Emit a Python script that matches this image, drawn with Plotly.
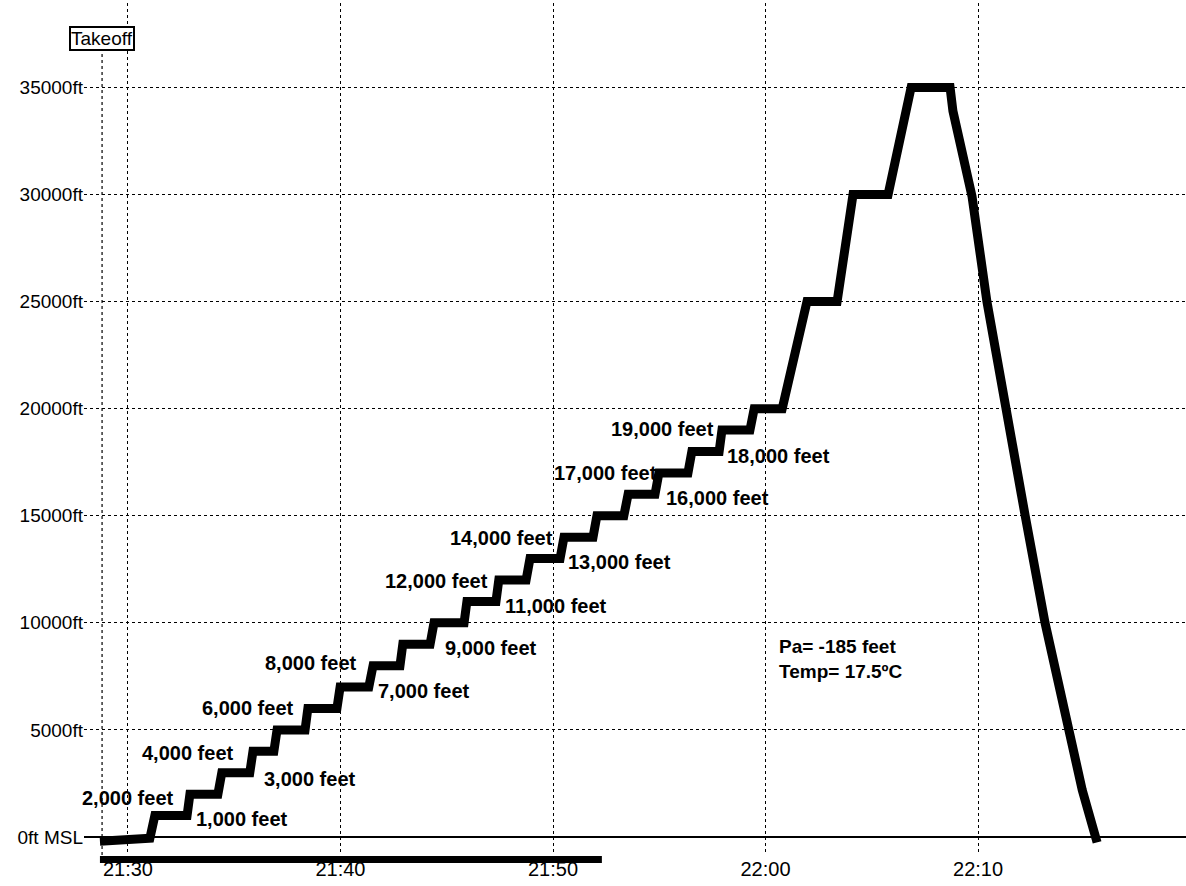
import pandas as pd
import plotly.graph_objects as go

DAY = "2000-01-01 "

# Flight profile vertices (local time, pressure altitude in feet)
TIME = ["21:28:41", "21:29:30", "21:31:02", "21:31:16", "21:32:47", "21:32:55", "21:34:14",
        "21:34:25", "21:35:44", "21:35:53", "21:36:52", "21:37:01", "21:38:20", "21:38:28",
        "21:39:50", "21:39:59", "21:41:20", "21:41:32", "21:42:48", "21:42:56", "21:44:13",
        "21:44:24", "21:45:49", "21:45:57", "21:47:19", "21:47:27", "21:48:44", "21:48:55",
        "21:50:20", "21:50:31", "21:51:53", "21:52:04", "21:53:20", "21:53:32", "21:54:48",
        "21:54:59", "21:56:21", "21:56:32", "21:57:49", "21:57:57", "21:59:16", "21:59:28",
        "22:00:47", "22:01:57", "22:03:22", "22:04:07", "22:05:46", "22:06:51", "22:08:41",
        "22:08:49", "22:09:43", "22:10:25", "22:11:16", "22:12:13", "22:13:09", "22:14:14",
        "22:14:54", "22:15:36"]
ALT_FT = [-200, -150, -60, 1000, 1000, 2000, 2000,
          3000, 3000, 4000, 4000, 5000, 5000, 6000,
          6000, 7000, 7000, 8000, 8000, 9000, 9000,
          10000, 10000, 11000, 11000, 12000, 12000, 13000,
          13000, 14000, 14000, 15000, 15000, 16000, 16000,
          17000, 17000, 18000, 18000, 19000, 19000, 20000,
          20000, 25000, 25000, 30000, 30000, 35000, 35000,
          33900, 29900, 25000, 20000, 15000, 10000, 5000,
          2200, -250]

# Axis ticks
X_TICKS = ["21:30", "21:40", "21:50", "22:00", "22:10"]
Y_TICKS = [0, 5000, 10000, 15000, 20000, 25000, 30000, 35000]
Y_TICK_TEXT = ["0ft MSL", "5000ft", "10000ft", "15000ft", "20000ft", "25000ft", "30000ft", "35000ft"]

# Step labels and their anchor (time, altitude)
LABEL_TEXT = ["2,000 feet", "1,000 feet", "4,000 feet", "3,000 feet", "6,000 feet", "8,000 feet",
              "7,000 feet", "9,000 feet", "12,000 feet", "11,000 feet", "14,000 feet",
              "13,000 feet", "17,000 feet", "16,000 feet", "19,000 feet", "18,000 feet"]
LABEL_TIME = ["21:30:00", "21:35:22", "21:32:49", "21:38:34", "21:35:39", "21:38:37",
              "21:43:56", "21:47:05", "21:44:30", "21:50:08", "21:47:36",
              "21:53:09", "21:52:27", "21:57:43", "21:55:08", "22:00:38"]
LABEL_ALT = [1820, 840, 3920, 2710, 6020, 8120,
             6810, 8820, 11950, 10780, 13950,
             12830, 16990, 15820, 19040, 17780]

NOTE_TEXT = "Pa= -185 feet<br>Temp= 17.5ºC"
NOTE_TIME = "22:00:32"
NOTE_ALT = 8330

TAKEOFF_TIME = "21:28:47"
BAR_START = "21:28:41"
BAR_END = "21:52:18"

X_RANGE = ["21:27:56", "22:19:47"]
Y_RANGE = [-840, 38940]

FONT = "Arial, Liberation Sans, sans-serif"

def ts(t):
    return pd.Timestamp(DAY + t)

fig = go.Figure()
fig.add_trace(go.Scatter(
    x=[ts(t) for t in TIME], y=ALT_FT, mode="lines",
    line=dict(color="black", width=9), hoverinfo="skip"))

for txt, t, a in zip(LABEL_TEXT, LABEL_TIME, LABEL_ALT):
    fig.add_annotation(x=ts(t), y=a, text=txt, showarrow=False,
                       font=dict(family=FONT, size=20, color="black", weight="bold"),
                       xanchor="center", yanchor="middle")

fig.add_annotation(x=ts(NOTE_TIME), y=NOTE_ALT, text=NOTE_TEXT, showarrow=False, align="left",
                   font=dict(family=FONT, size=19, color="black", weight="bold"),
                   xanchor="left", yanchor="middle")

# Takeoff marker
fig.add_shape(type="line", xref="x", yref="paper", x0=ts(TAKEOFF_TIME), x1=ts(TAKEOFF_TIME),
              y0=0, y1=0.947, line=dict(color="black", width=1.2, dash="dot"))
fig.add_annotation(x=ts(TAKEOFF_TIME), xref="x", yref="paper", y=0.958, text="Takeoff",
                   showarrow=False, font=dict(family=FONT, size=19, color="black"),
                   bordercolor="black", borderwidth=2, borderpad=0, bgcolor="white",
                   xanchor="center", yanchor="middle")

# Range bar under the axis
fig.add_shape(type="rect", xref="x", yref="paper", x0=ts(BAR_START), x1=ts(BAR_END),
              y0=-0.0094, y1=-0.0012, fillcolor="black", line=dict(width=0))

fig.update_layout(
    width=1186, height=886,
    margin=dict(l=84, r=0, t=3, b=31, autoexpand=False),
    paper_bgcolor="white", plot_bgcolor="white",
    showlegend=False,
    font=dict(family=FONT, color="black"),
    xaxis=dict(type="date", range=[ts(X_RANGE[0]), ts(X_RANGE[1])],
               tickvals=[ts(t + ":00") for t in X_TICKS], ticktext=X_TICKS,
               showgrid=True, gridcolor="black", griddash="dot", gridwidth=1,
               showline=False, zeroline=False, ticks="",
               tickfont=dict(family=FONT, size=20, color="black")),
    yaxis=dict(range=Y_RANGE, tickvals=Y_TICKS, ticktext=Y_TICK_TEXT,
               showgrid=True, gridcolor="black", griddash="dot", gridwidth=1,
               zeroline=True, zerolinecolor="black", zerolinewidth=2,
               showline=False, ticks="",
               tickfont=dict(family=FONT, size=19, color="black")),
)

fig.write_html("out.html", config={"displayModeBar": False},
               post_script="document.body.style.margin='0px';document.body.style.overflow='hidden';")
